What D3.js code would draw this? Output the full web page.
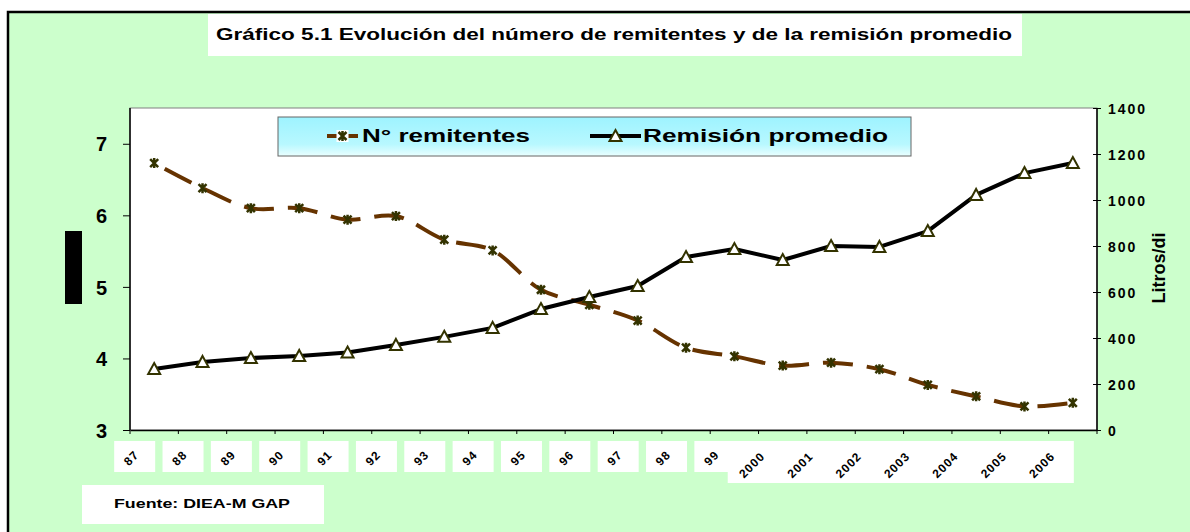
<!DOCTYPE html>
<html>
<head>
<meta charset="utf-8">
<script src="https://cdn.jsdelivr.net/npm/d3@7"></script>
<style>
  body { margin: 0; background: #fff; }
  text { font-family: "Liberation Sans", Arial, sans-serif; font-weight: bold; }
</style>
</head>
<body>
<script>
let years = ["87","88","89","90","91","92","93","94","95","96","97","98","99","2000","2001","2002","2003","2004","2005","2006"];
let remitentes = [6.73,6.38,6.10,6.10,5.94,5.99,5.66,5.51,4.96,4.75,4.53,4.15,4.03,3.90,3.94,3.85,3.63,3.47,3.33,3.38];
let remision = [265,296,313,322,337,370,405,444,526,578,626,752,787,739,800,796,865,1022,1117,1161];
let leftTicks = [3,4,5,6,7];
let rightTicks = [0,200,400,600,800,1000,1200,1400];
let seriesNames = ["N° remitentes", "Remisión promedio"];

let width = 1190, height = 532;
let plotL = 130, plotR = 1097, plotT = 108, plotB = 430;

let x = d3.scaleBand().domain(years).range([plotL, plotR]);
let yL = d3.scaleLinear().domain([3, 7.5]).range([plotB, plotT]);
let yR = d3.scaleLinear().domain([0, 1400]).range([plotB, plotT]);
let cx = (d) => x(d) + x.bandwidth() / 2;

const svg = d3.select("body")
            .append("svg")
            .attr("width", width)
            .attr("height", height);

let defs = svg.append("defs");
let grad = defs.append("linearGradient").attr("id", "legGrad")
            .attr("x1", 0).attr("y1", 0).attr("x2", 0).attr("y2", 1);
grad.append("stop").attr("offset", "0%").attr("stop-color", "#9ef3ff");
grad.append("stop").attr("offset", "70%").attr("stop-color", "#b8f8ff");
grad.append("stop").attr("offset", "100%").attr("stop-color", "#eaffff");

// chart background + frame
svg.append("rect")
    .attr("x", 8).attr("y", 12)
    .attr("width", 1200).attr("height", 540)
    .style("fill", "#ccffcc")
    .style("stroke", "#000")
    .style("stroke-width", 2.5);

// title
svg.append("rect")
    .attr("x", 208).attr("y", 14)
    .attr("width", 814).attr("height", 42)
    .style("fill", "#fff");
svg.append("text")
    .attr("x", 216).attr("y", 40)
    .attr("textLength", 796)
    .attr("lengthAdjust", "spacingAndGlyphs")
    .style("font-size", "16px")
    .text("Gráfico 5.1 Evolución del número de remitentes y de la remisión promedio");

// plot area
svg.append("rect")
    .attr("x", plotL).attr("y", plotT)
    .attr("width", plotR - plotL).attr("height", plotB - plotT)
    .style("fill", "#fff")
    .style("stroke", "#808080")
    .style("stroke-width", 1);

// left axis
let yAxisL = d3.axisLeft(yL).tickValues(leftTicks).tickSize(7).tickFormat(d3.format("d"));
let gL = svg.append("g")
    .attr("transform", `translate(${plotL},0)`)
    .call(yAxisL);
gL.select(".domain").attr("d", `M0,${plotT}V${plotB}`).style("stroke", "#000").style("stroke-width", 1.5);
gL.selectAll(".tick line").style("stroke", "#000");
gL.selectAll(".tick text")
    .attr("x", -23).attr("dy", "0.36em")
    .style("font-size", "20px")
    .style("fill", "#000");

// right axis
let yAxisR = d3.axisRight(yR).tickValues(rightTicks).tickSize(4).tickFormat(d3.format("d"));
let gR = svg.append("g")
    .attr("transform", `translate(${plotR},0)`)
    .call(yAxisR);
gR.select(".domain").attr("d", `M0,${plotT}V${plotB}`).style("stroke", "#000").style("stroke-width", 1.5);
gR.selectAll(".tick line").attr("x1", -4).style("stroke", "#000");
gR.selectAll(".tick text")
    .attr("x", 11).attr("dy", "0.36em")
    .style("font-size", "14px")
    .style("letter-spacing", "2px")
    .style("fill", "#000");

svg.append("text")
    .attr("transform", `translate(1165,268) rotate(-90)`)
    .style("text-anchor", "middle")
    .style("font-size", "18px")
    .text("Litros/di");

// black block over the left axis title
svg.append("rect")
    .attr("x", 65).attr("y", 231)
    .attr("width", 17).attr("height", 73)
    .style("fill", "#000");

// bottom axis
let xAxis = d3.axisBottom(x).tickSize(0).tickFormat("");
let gX = svg.append("g")
    .attr("transform", `translate(0,${plotB})`)
    .call(xAxis);
gX.select(".domain").style("stroke", "#000").style("stroke-width", 1.5);
gX.selectAll(".edge")
    .data(years.concat([null]))
    .enter()
    .append("line")
    .attr("class", "edge")
    .attr("x1", (d, i) => plotL + i * x.step())
    .attr("x2", (d, i) => plotL + i * x.step())
    .attr("y1", 0).attr("y2", 4)
    .style("stroke", "#000");

// x label boxes
let shortYears = years.filter((d) => d.length === 2);
let longYears = years.filter((d) => d.length === 4);
let labelX = (d) => cx(d) - (d.length === 2 ? 20 : 28);

svg.selectAll(".xbox")
    .data(shortYears)
    .enter()
    .append("rect")
    .attr("class", "xbox")
    .attr("x", (d) => labelX(d) - 20)
    .attr("y", 441)
    .attr("width", 41).attr("height", 31)
    .style("fill", "#fff");
svg.append("rect")
    .attr("x", labelX(longYears[0]) - 27)
    .attr("y", 441)
    .attr("width", labelX(longYears[longYears.length - 1]) - labelX(longYears[0]) + 56)
    .attr("height", 42)
    .style("fill", "#fff");

svg.selectAll(".xlab")
    .data(years)
    .enter()
    .append("text")
    .attr("class", "xlab")
    .attr("transform", (d) => `translate(${labelX(d)},${d.length === 2 ? 461 : 468}) rotate(-45)`)
    .style("text-anchor", "middle")
    .style("font-size", "12px")
    .style("letter-spacing", "1px")
    .text((d) => d);

// source
svg.append("rect")
    .attr("x", 82).attr("y", 485)
    .attr("width", 242).attr("height", 39)
    .style("fill", "#fff");
svg.append("text")
    .attr("x", 114).attr("y", 508)
    .attr("textLength", 176)
    .attr("lengthAdjust", "spacingAndGlyphs")
    .style("font-size", "12px")
    .text("Fuente: DIEA-M GAP");

// lines
let lineL = d3.line().x((d, i) => cx(years[i])).y((d) => yL(d)).curve(d3.curveCatmullRom);
let lineR = d3.line().x((d, i) => cx(years[i])).y((d) => yR(d));

svg.append("path")
    .datum(remitentes)
    .attr("d", lineL)
    .style("fill", "none")
    .style("stroke", "#663300")
    .style("stroke-width", 4)
    .style("stroke-dasharray", "30,14")
    .style("stroke-dashoffset", -12);

svg.append("path")
    .datum(remision)
    .attr("d", lineR)
    .style("fill", "none")
    .style("stroke", "#000")
    .style("stroke-width", 4)
    .style("stroke-linejoin", "round");

let starPath = "M-4,-4L4,4M4,-4L-4,4M0,-5V5";
let triPath = "M0,-6L6,5H-6Z";

svg.selectAll(".star")
    .data(remitentes)
    .enter()
    .append("path")
    .attr("class", "star")
    .attr("transform", (d, i) => `translate(${cx(years[i])},${yL(d)})`)
    .attr("d", starPath)
    .style("fill", "none")
    .style("stroke", "#333300")
    .style("stroke-width", 2.5);

svg.selectAll(".tri")
    .data(remision)
    .enter()
    .append("path")
    .attr("class", "tri")
    .attr("transform", (d, i) => `translate(${cx(years[i])},${yR(d)})`)
    .attr("d", triPath)
    .style("fill", "#fff")
    .style("stroke", "#333300")
    .style("stroke-width", 2);

// legend
let legend = svg.append("g").attr("id", "legend");
legend.append("rect")
    .attr("x", 278).attr("y", 117)
    .attr("width", 633).attr("height", 39)
    .style("fill", "url(#legGrad)")
    .style("stroke", "#666")
    .style("stroke-width", 1);

let legItems = [
    {name: seriesNames[0], x0: 327, x1: 358, tx: 362, tl: 168},
    {name: seriesNames[1], x0: 590, x1: 641, tx: 643, tl: 245}
];
legItems.forEach((it, i) => {
    legend.append("line")
        .attr("x1", it.x0).attr("x2", it.x1)
        .attr("y1", 136).attr("y2", 136)
        .style("stroke", i === 0 ? "#663300" : "#000")
        .style("stroke-width", 4);
    let mx = (it.x0 + it.x1) / 2;
    if (i === 0) {
        legend.append("rect")
            .attr("x", mx - 6).attr("y", 130)
            .attr("width", 12).attr("height", 12)
            .style("fill", "#fff");
        legend.append("path")
            .attr("transform", `translate(${mx},136)`)
            .attr("d", starPath)
            .style("fill", "none")
            .style("stroke", "#333300")
            .style("stroke-width", 2.5);
    } else {
        legend.append("path")
            .attr("transform", `translate(${mx},136)`)
            .attr("d", triPath)
            .style("fill", "#fff")
            .style("stroke", "#333300")
            .style("stroke-width", 2);
    }
    legend.append("text")
        .attr("x", it.tx).attr("y", 142)
        .attr("textLength", it.tl)
        .attr("lengthAdjust", "spacingAndGlyphs")
        .style("font-size", "18px")
        .text(it.name);
});
</script>
</body>
</html>
